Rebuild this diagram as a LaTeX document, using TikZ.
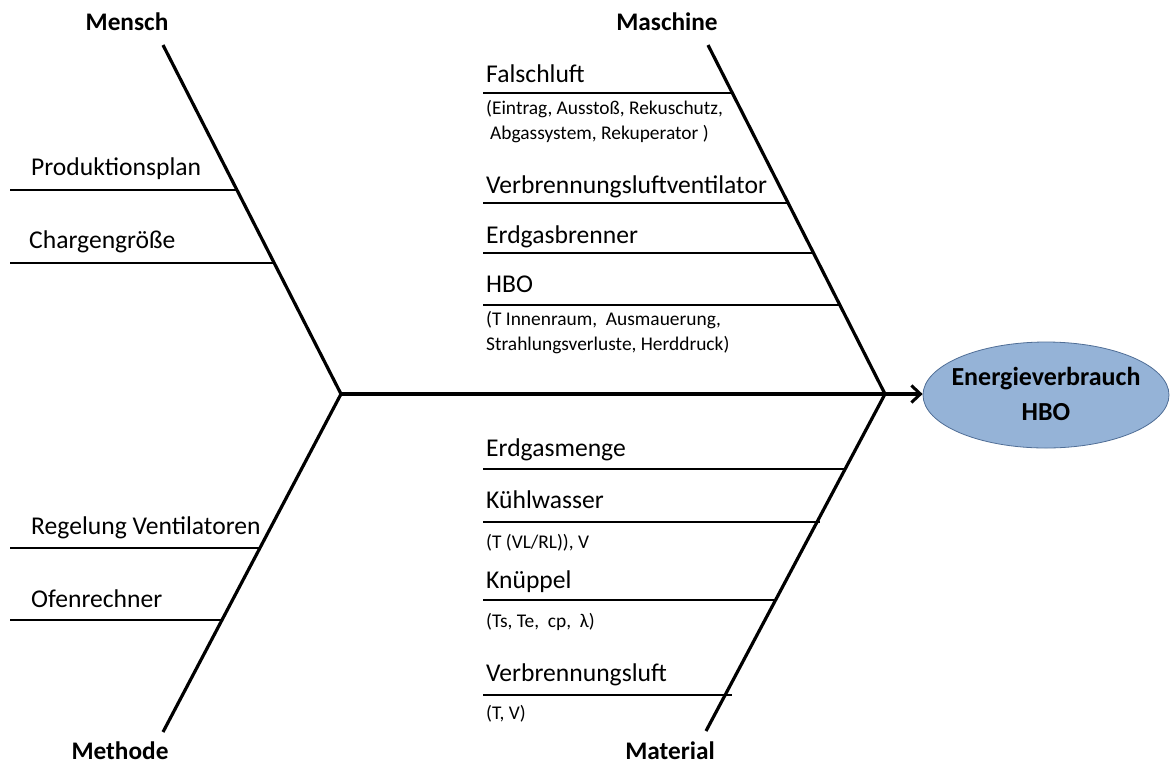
\documentclass[tikz,border=0pt]{standalone}
\usepackage{fontspec}
\setmainfont{Carlito}
\usetikzlibrary{arrows.meta,shapes.geometric}
\definecolor{ellfill}{RGB}{149,179,215}
\definecolor{elldraw}{RGB}{80,110,150}
\begin{document}
\begin{tikzpicture}[x=1pt,y=-1pt,
  bone/.style={line width=3.2pt},
  spine/.style={line width=3.8pt,-{Straight Barb[length=9pt,width=17pt,line width=3pt]}},
  branch/.style={line width=1.8pt},
  cat/.style={font=\fontsize{25.3}{25}\selectfont\bfseries,anchor=base,inner sep=0pt},
  item/.style={font=\fontsize{25.6}{26}\selectfont,anchor=base west,inner sep=0pt},
  sub/.style={font=\fontsize{19.4}{20}\selectfont,anchor=base west,inner sep=0pt},
  effect/.style={ellipse,draw=elldraw,line width=0.8pt,fill=ellfill,minimum width=246pt,minimum height=106pt,inner sep=0pt},
  efftext/.style={align=center,inner sep=0pt,font=\fontsize{26}{35}\selectfont\bfseries}
]
\useasboundingbox (0,0) rectangle (1170,764);
% bones
\coordinate (J1) at (341,394);
\coordinate (J2) at (885,394);
\coordinate (mT) at (163,45);
\coordinate (maT) at (708,45);
\coordinate (meB) at (163,732);
\coordinate (mtB) at (706,731);
\node[effect] (eff) at (1046,395) {};
\node[efftext] (effT) at (1046,394) {Energieverbrauch\\HBO};
\draw[bone] (mT) -- (J1) -- (meB);
\draw[bone] (maT) -- (J2) -- (mtB);
\draw[spine] (J1) -- (J1 -| eff.west);
% category labels
\node[cat] (mensch) at (127,30) {Mensch};
\node[cat] (maschine) at (667,30) {Maschine};
\node[cat] (methode) at (120,759) {Methode};
\node[cat] (material) at (670,759) {Material};
% Mensch branches
\coordinate (a1) at (10,190); \coordinate (a1e) at (237,190);
\coordinate (a2) at (10,263); \coordinate (a2e) at (275,263);
\draw[branch] (a1) -- (a1e);
\draw[branch] (a2) -- (a2e);
\node[item] (prod) at (31,175) {Produktionsplan};
\node[item] (charg) at (29,248) {Chargengröße};
% Methode branches
\coordinate (b1) at (10,548); \coordinate (b1e) at (261,548);
\coordinate (b2) at (10,620); \coordinate (b2e) at (223,620);
\draw[branch] (b1) -- (b1e);
\draw[branch] (b2) -- (b2e);
\node[item] (regel) at (31,534) {Regelung Ventilatoren};
\node[item] (ofen) at (31,607) {Ofenrechner};
% Maschine branches
\coordinate (c1) at (483,93); \coordinate (c1e) at (733,93);
\coordinate (c2) at (483,203); \coordinate (c2e) at (789,203);
\coordinate (c3) at (483,253); \coordinate (c3e) at (814,253);
\coordinate (c4) at (483,305); \coordinate (c4e) at (841,305);
\draw[branch] (c1) -- (c1e);
\draw[branch] (c2) -- (c2e);
\draw[branch] (c3) -- (c3e);
\draw[branch] (c4) -- (c4e);
\node[item] (falsch) at (486,82) {Falschluft};
\node[sub] (falschA) at (486,114) {(Eintrag, Ausstoß, Rekuschutz,};
\node[sub] (falschB) at (490,139) {Abgassystem, Rekuperator )};
\node[item] (vlv) at (486,193) {Verbrennungsluftventilator};
\node[item] (egb) at (486,243) {Erdgasbrenner};
\node[item] (hbo) at (486,292) {HBO};
\node[sub] (hboA) at (486,325) {(T Innenraum,\ \ Ausmauerung,};
\node[sub] (hboB) at (486,350) {Strahlungsverluste, Herddruck)};
% Material branches
\coordinate (d1) at (483,469); \coordinate (d1e) at (846,469);
\coordinate (d2) at (483,522); \coordinate (d2e) at (820,522);
\coordinate (d3) at (483,600); \coordinate (d3e) at (777,600);
\coordinate (d4) at (483,695); \coordinate (d4e) at (732,695);
\draw[branch] (d1) -- (d1e);
\draw[branch] (d2) -- (d2e);
\draw[branch] (d3) -- (d3e);
\draw[branch] (d4) -- (d4e);
\node[item] (egm) at (486,456) {Erdgasmenge};
\node[item] (kw) at (486,508) {Kühlwasser};
\node[sub] (kwA) at (486,548) {(T (VL/RL)), V};
\node[item] (kn) at (486,588) {Knüppel};
\node[sub] (knA) at (486,627) {(Ts, Te,\ \ cp,\ \ λ)};
\node[item] (vl) at (486,681) {Verbrennungsluft};
\node[sub] (vlA) at (486,719) {(T, V)};
\end{tikzpicture}
\end{document}
